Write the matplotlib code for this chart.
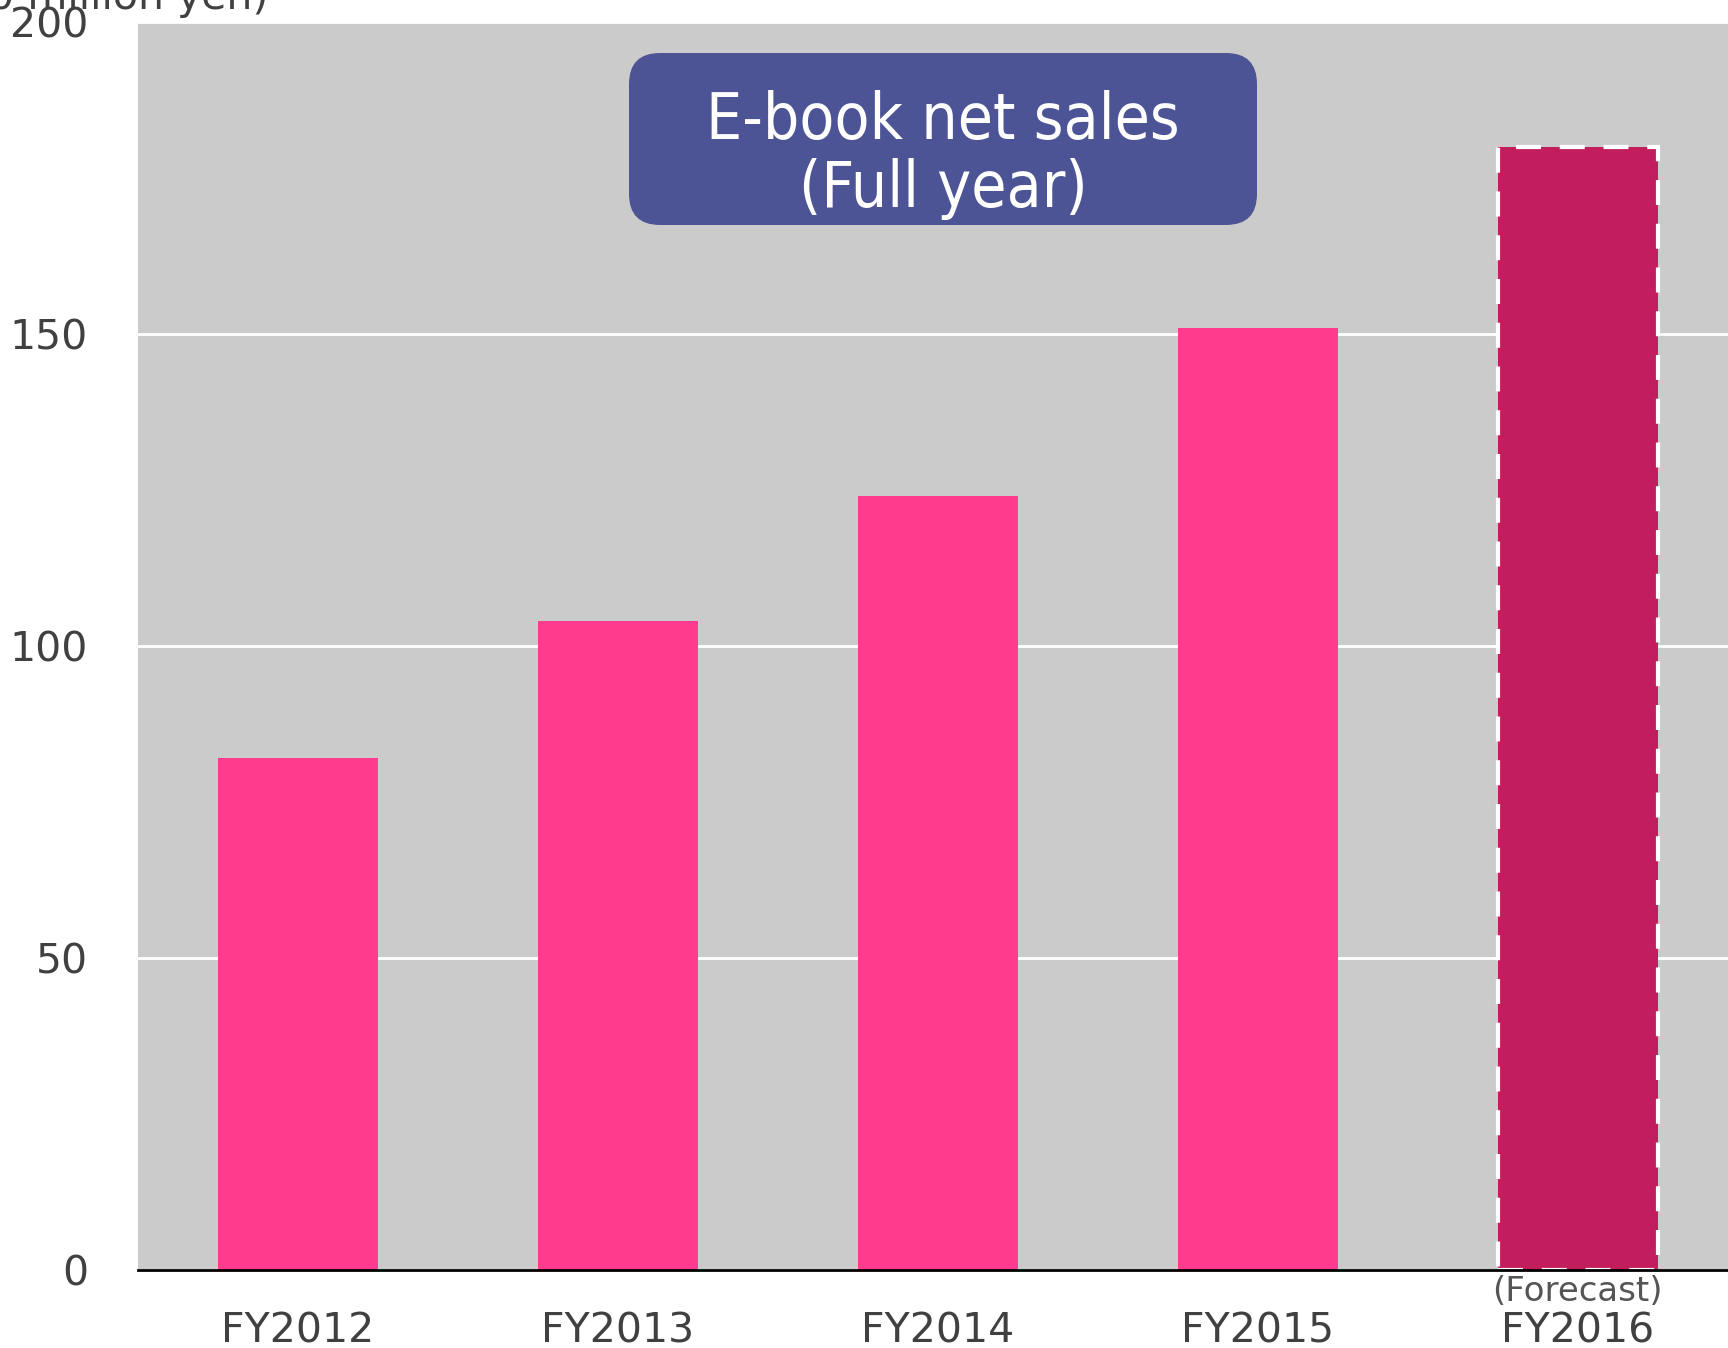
import matplotlib.pyplot as plt
from matplotlib.patches import FancyBboxPatch

# Data (100 million yen)
years = ["FY2012", "FY2013", "FY2014", "FY2015", "FY2016"]
sales = [82, 104, 124, 151, 180]
is_forecast = [False, False, False, False, True]
yticks = [0, 50, 100, 150, 200]

plt.rcParams['font.family'] = ['DejaVu Sans']

fig = plt.figure(figsize=(17.28, 13.48), dpi=100)
ax = fig.add_axes([138 / 1728, 1 - 1270 / 1348, 1590 / 1728, 1248 / 1348])
ax.set_facecolor('#CBCBCB')

x = list(range(len(years)))
colors = ['#C21E5E' if f else '#FF3B8D' for f in is_forecast]
bars = ax.bar(x, sales, width=0.5, color=colors, zorder=3)
for b, f in zip(bars, is_forecast):
    if f:
        b.set_edgecolor('white')
        b.set_linewidth(3)
        b.set_linestyle((0, (6, 4.5)))

ax.set_xlim(-0.5, 4.47)
ax.set_ylim(0, 200)
ax.set_yticks(yticks)
ax.set_yticklabels([str(v) for v in yticks])
ax.yaxis.grid(True, color='white', linewidth=2, zorder=1)
ax.set_axisbelow(True)

ax.set_xticks(x)
ax.set_xticklabels(years)
ax.tick_params(axis='both', length=0, labelsize=29.5, colors='#404040')
ax.tick_params(axis='x', pad=30)
ax.tick_params(axis='y', pad=36)

for s in ['top', 'right', 'left']:
    ax.spines[s].set_visible(False)
ax.spines['bottom'].set_color('black')
ax.spines['bottom'].set_linewidth(2)
ax.spines['bottom'].set_zorder(4)

# forecast note under last bar
ax.text(4, -3.5, "(Forecast)", ha='center', va='center', fontsize=24.5,
        color='#555555', clip_on=False)

# title box
bx0, by0, bw, bh = 629 / 1728, 1 - 225 / 1348, 628 / 1728, 172 / 1348
box = FancyBboxPatch((bx0, by0), bw, bh, boxstyle="round,pad=0,rounding_size=0.018",
                     transform=fig.transFigure, facecolor='#4C5496', edgecolor='none',
                     zorder=5, mutation_aspect=1728 / 1348)
fig.patches.append(box)
fig.text(bx0 + bw / 2, 1 - 155 / 1348, "E-book net sales\n(Full year)", ha='center',
         va='center', color='white', fontsize=46, fontstretch='condensed',
         linespacing=1.14, zorder=6)

# unit label, partially off the top edge
fig.text(268 / 1728, 1 - 9 / 1348, "(100 million yen)", ha='right', va='baseline',
         fontsize=29.5, color='#404040')

fig.savefig("out.png", dpi=100)
